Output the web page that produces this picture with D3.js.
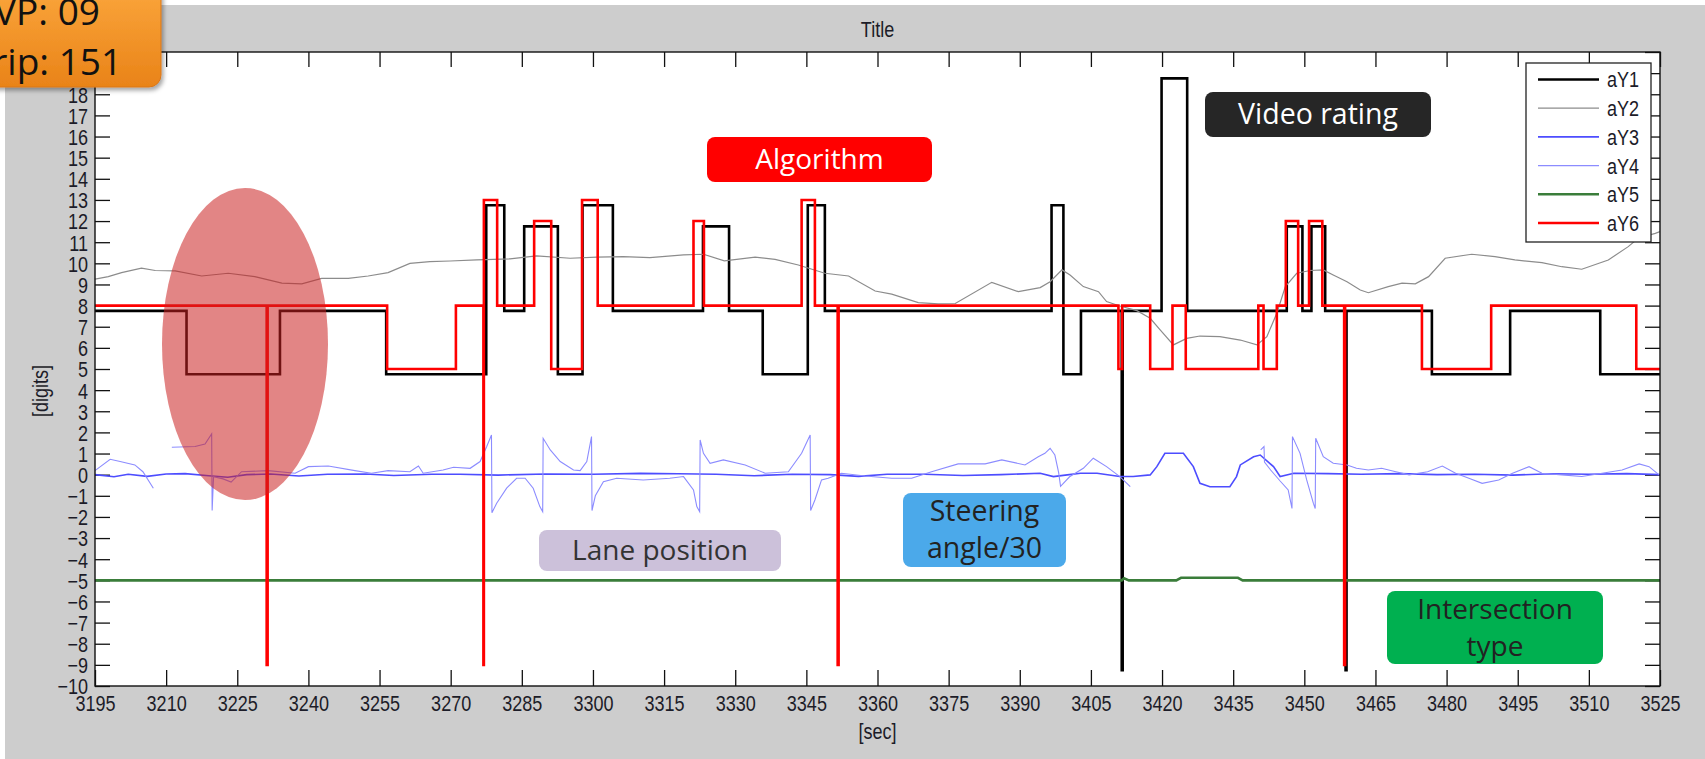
<!DOCTYPE html>
<html>
<head>
<meta charset="utf-8">
<script src="https://cdn.jsdelivr.net/npm/d3@7"></script>
<style>
  body { margin: 0; background: #fff; }
  svg { display: block; }
</style>
</head>
<body>
<script>
/**
 * Matlab-style signal plot (aY1..aY6 over time) with slide annotations on top.
 * Data are change points / samples: [sec, digits].
 */

// axis ticks
const X_TICKS = [3195, 3210, 3225, 3240, 3255, 3270, 3285, 3300, 3315, 3330, 3345,
                 3360, 3375, 3390, 3405, 3420, 3435, 3450, 3465, 3480, 3495, 3510, 3525];
const Y_TICKS = [-10, -9, -8, -7, -6, -5, -4, -3, -2, -1, 0, 1, 2, 3, 4, 5, 6, 7, 8, 9,
                 10, 11, 12, 13, 14, 15, 16, 17, 18, 19, 20];
// 19 and 20 sit under the orange badge, so they get no label
const Y_HIDDEN_LABELS = [19, 20];
const SERIES_NAMES = ["aY1", "aY2", "aY3", "aY4", "aY5", "aY6"];

// aY1 - video rating (step, value holds until next point)
const aY1 = [
  [3195, 7.75], [3214.3, 4.75], [3234.0, 7.75], [3256.4, 4.75], [3277.5, 12.75],
  [3281.3, 7.75], [3285.5, 11.75], [3292.6, 4.75], [3297.8, 12.75], [3304.2, 7.75],
  [3323.2, 11.75], [3328.7, 7.75], [3335.8, 4.75], [3345.3, 12.75], [3348.9, 7.75],
  [3396.7, 12.75], [3399.2, 4.75], [3402.9, 7.75], [3411.5, -9.25], [3411.7, 7.75],
  [3419.9, 18.75], [3425.3, 7.75], [3446.3, 11.75], [3449.6, 7.75], [3451.5, 11.75],
  [3454.4, 7.75], [3458.7, -9.25], [3458.9, 7.75], [3476.9, 4.75], [3493.4, 7.75],
  [3512.4, 4.75], [3525, 4.75]
];

// aY2 - lane position
const aY2 = [
  [3195, 9.25], [3197.8, 9.37], [3200.6, 9.56], [3204.8, 9.77], [3207.7, 9.66],
  [3211.9, 9.64], [3217.5, 9.40], [3223.1, 9.53], [3228.7, 9.37], [3234.4, 9.06],
  [3238.6, 9.03], [3242.8, 9.29], [3248.4, 9.29], [3252.6, 9.40], [3256.8, 9.56],
  [3261.4, 10.0], [3265.6, 10.08], [3269.9, 10.11], [3275.5, 10.16], [3282.5, 10.21],
  [3288.1, 10.35], [3295.2, 10.24], [3300.8, 10.29], [3306.4, 10.32], [3312.0, 10.27],
  [3319.1, 10.40], [3323.3, 10.43], [3327.7, 10.12], [3334.2, 10.29], [3338.4, 10.19],
  [3343.3, 9.92], [3348.9, 9.53], [3353.9, 9.40], [3359.5, 8.69], [3363.0, 8.54],
  [3368.6, 8.14], [3372.8, 8.08], [3376.4, 8.1], [3384.1, 9.1], [3389.7, 8.66],
  [3394.3, 8.85], [3396.4, 9.13], [3398.9, 9.69], [3400.6, 9.45], [3403.4, 8.90],
  [3406.6, 8.66], [3408.3, 8.19], [3411.1, 7.98], [3414.7, 7.76], [3417.5, 7.40],
  [3419.6, 6.85], [3422.4, 6.14], [3425.2, 6.45], [3428.0, 6.56], [3432.2, 6.53],
  [3436.5, 6.37], [3440.0, 6.14], [3442.1, 6.53], [3444.2, 7.64], [3446.0, 8.90],
  [3448.4, 9.53], [3451.2, 9.66], [3454.0, 9.69], [3456.1, 9.45], [3459.0, 9.13],
  [3461.8, 8.74], [3463.5, 8.61], [3467.7, 8.90], [3470.6, 9.06], [3473.4, 9.03],
  [3476.2, 9.37], [3479.7, 10.24], [3485.3, 10.43], [3490.2, 10.32], [3494.4, 10.16],
  [3500.1, 10.03], [3504.3, 9.84], [3508.5, 9.72], [3514.1, 10.16], [3518.3, 10.79],
  [3520.4, 11.19], [3524.0, 11.42], [3525, 11.5]
];

// aY3 - steering angle / 30
const aY3 = [
  [3195, 0], [3199, -0.1], [3202, 0.02], [3206, -0.08], [3210, 0.03], [3214, 0.05],
  [3219, -0.05], [3223, -0.12], [3227, 0], [3232, 0.03], [3238, -0.06], [3244, 0.02],
  [3252, 0.03], [3258, -0.04], [3266, 0.02], [3272, 0.02], [3280, -0.02], [3290, 0.03],
  [3300, 0.02], [3310, 0.06], [3318, 0.04], [3326, 0.02], [3334, -0.05], [3342, 0.02],
  [3350, 0], [3356, -0.08], [3362, 0.02], [3370, 0.02], [3378, -0.04], [3386, 0],
  [3394.3, 0.07], [3397.1, -0.09], [3400.0, -0.01], [3402.8, 0.07], [3406.3, 0.07],
  [3411.1, -0.09], [3413.9, -0.09], [3417.5, -0.01], [3418.9, 0.38], [3420.6, 1.01],
  [3424.5, 1.01], [3426.6, 0.38], [3428.0, -0.41], [3430.1, -0.57], [3434.3, -0.57],
  [3435.7, -0.09], [3436.5, 0.46], [3439.3, 0.85], [3440.7, 0.93], [3443.5, 0.38],
  [3444.9, -0.09], [3447.8, 0.07], [3455, 0.05], [3462, 0.02], [3470, 0.05],
  [3478, 0.0], [3486, 0.02], [3494, -0.02], [3502, 0.04], [3510, 0.02], [3518, 0.05],
  [3525, 0.0]
];

// aY4 - raw steering, null = gap in the recording
const aY4 = [
  [3195, 0.19], [3198.2, 0.73], [3200.3, 0.62], [3203.4, 0.46], [3205.1, 0.14],
  [3207.3, -0.64], [3209, null],
  [3211.2, 1.3], [3216.1, 1.33], [3218.2, 1.45], [3219.6, 1.93], [3219.7, -1.7],
  [3220.0, -0.1], [3222.0, -0.2], [3223.7, -0.35], [3225.9, 0.14], [3231.5, 0.19],
  [3237.2, 0.07], [3240.0, 0.38], [3244.2, 0.41], [3249.8, 0.19], [3253.3, 0.07],
  [3256.8, 0.19], [3261.4, 0.14], [3263.2, 0.41], [3264.2, 0.07], [3268.4, 0.22],
  [3270.6, 0.35], [3274.1, 0.30], [3276.2, 0.62], [3277.6, 1.33], [3278.6, 1.88],
  [3278.7, -1.8], [3279.7, -1.35], [3281.8, -0.64], [3283.9, -0.17], [3285.7, -0.17],
  [3287.4, -0.64], [3288.8, -1.51], [3289.4, -1.75], [3289.5, 1.72], [3291.0, 1.17],
  [3293.1, 0.62], [3295.9, 0.22], [3297.3, 0.19], [3298.7, 0.62], [3299.7, 1.80],
  [3299.8, -1.7], [3300.5, -1.0], [3302.2, -0.33], [3305.0, -0.17], [3310.6, -0.25],
  [3316.2, -0.17], [3319.1, -0.09], [3321.2, -0.72], [3321.9, -1.51], [3322.5, -1.75],
  [3322.6, 1.64], [3323.3, 1.01], [3324.7, 0.54], [3327.5, 0.70], [3332.1, 0.46],
  [3336.3, 0.07], [3341.2, 0.14], [3344.0, 1.01], [3345.8, 1.88], [3345.9, -1.7],
  [3346.8, -1.2], [3348.2, -0.25], [3349.6, -0.17], [3352.4, 0.07], [3357.4, -0.06],
  [3363.0, -0.17], [3367.2, -0.17], [3371.4, 0.14], [3377.0, 0.51], [3382.7, 0.51],
  [3386.2, 0.70], [3391.1, 0.46], [3393.9, 0.85], [3395.3, 1.01], [3396.4, 1.25],
  [3397.4, 0.93], [3398.2, 0.1], [3398.6, -0.55], [3400.5, -0.1], [3403.4, 0.3],
  [3405.5, 0.78], [3408.3, 0.38], [3411.1, -0.09], [3413.3, -0.57], [3415, null],
  [3440.8, 1.17], [3441.5, 1.33], [3441.6, 0.6], [3442.9, 0.22], [3444.9, -0.3],
  [3446.6, -0.72], [3447.4, -1.6], [3447.5, 1.80], [3449.1, 1.01], [3450.5, -0.25],
  [3451.9, -1.35], [3452.3, -1.6], [3452.4, 1.72], [3454.0, 0.85], [3456.1, 0.54],
  [3459.0, 0.46], [3461.0, 0.3], [3463.5, 0.22], [3466.3, 0.30], [3469.3, 0.14],
  [3472.1, -0.01], [3476.0, 0.14], [3479.1, 0.41], [3481.9, 0.07], [3484.7, -0.17],
  [3487.5, -0.41], [3491.0, -0.25], [3493.9, 0.07], [3497.4, 0.38], [3500.1, 0.07],
  [3504.3, -0.01], [3508.5, -0.09], [3512.8, 0.07], [3517.0, 0.22], [3520.6, 0.51],
  [3522.7, 0.38], [3524.8, -0.01]
];

// aY5 - intersection type
const aY5 = [
  [3195, -5], [3411.5, -5], [3412, -4.9], [3413, -5], [3423, -5], [3424, -4.88],
  [3436, -4.88], [3437, -5], [3525, -5]
];

// aY6 - algorithm (step)
const aY6 = [
  [3195, 8], [3231.2, -9], [3231.4, 8], [3256.6, 5], [3271.1, 8], [3276.9, -9],
  [3277.0, 13], [3279.8, 8], [3287.6, 12], [3291.2, 5], [3297.7, 13], [3301.0, 8],
  [3321.2, 12], [3323.4, 8], [3344.0, 13], [3346.8, 8], [3351.6, -9], [3351.8, 8],
  [3410.8, 5], [3411.6, 8], [3417.5, 5], [3422.2, 8], [3425.0, 5], [3440.3, 8],
  [3441.4, 5], [3444.2, 8], [3446.1, 12], [3448.7, 8], [3451.0, 12], [3453.8, 8],
  [3458.4, -9], [3458.6, 8], [3474.8, 5], [3489.4, 8], [3520.0, 5], [3525, 5]
];

const SERIES = [aY1, aY2, aY3, aY4, aY5, aY6];

// styles, kept apart from the data
const STYLE = {
  aY1: {color: "#000000", width: 2.6, step: true},
  aY2: {color: "#8c8c8c", width: 1.2, step: false},
  aY3: {color: "#4d4dff", width: 1.6, step: false},
  aY4: {color: "#8c8cff", width: 1.1, step: false},
  aY5: {color: "#3a7d3a", width: 2.6, step: false},
  aY6: {color: "#ff0000", width: 2.6, step: true}
};

const W = 1705, H = 759;
const plot = {left: 95, right: 1660, top: 52, bottom: 686};
const TEXT_SX = 0.82;   // matlab fonts look squeezed horizontally
const ML_FONT = "'Liberation Sans', Arial, sans-serif";
const NOTE_FONT = "'Open Sans', 'Noto Sans', sans-serif";

const svg = d3.select("body").append("svg")
  .attr("width", W).attr("height", H);

const defs = svg.append("defs");
defs.append("clipPath").attr("id", "plotclip")
  .append("rect")
  .attr("x", plot.left).attr("y", plot.top)
  .attr("width", plot.right - plot.left).attr("height", plot.bottom - plot.top);

let grad = defs.append("linearGradient").attr("id", "orange")
  .attr("x1", 0).attr("y1", 0).attr("x2", 0).attr("y2", 1);
grad.append("stop").attr("offset", "0%").attr("stop-color", "#fca83e");
grad.append("stop").attr("offset", "100%").attr("stop-color", "#e98318");

let shadow = defs.append("filter").attr("id", "shadow")
  .attr("x", "-20%").attr("y", "-20%").attr("width", "140%").attr("height", "140%");
shadow.append("feDropShadow").attr("dx", 2).attr("dy", 3)
  .attr("stdDeviation", 2).attr("flood-color", "#000").attr("flood-opacity", 0.35);

// figure background
svg.append("rect").attr("x", 5).attr("y", 5).attr("width", W - 5).attr("height", H - 5)
  .attr("fill", "#cdcdcd");
svg.append("rect")
  .attr("x", plot.left).attr("y", plot.top)
  .attr("width", plot.right - plot.left).attr("height", plot.bottom - plot.top)
  .attr("fill", "#ffffff");

const x = d3.scaleLinear().domain([3195, 3525]).range([plot.left, plot.right]);
const y = d3.scaleLinear().domain([-10, 20]).range([plot.bottom, plot.top]);

function mlText(sel) {
  return sel.attr("font-family", ML_FONT).attr("font-size", 22).attr("fill", "#1c1c28");
}

// axes - matlab puts ticks inside on all four sides
let xAxis = d3.axisBottom(x).tickValues(X_TICKS).tickSizeInner(-16).tickSizeOuter(0)
  .tickFormat(d3.format("d"));
let gx = svg.append("g").attr("transform", "translate(0," + plot.bottom + ")").call(xAxis);
gx.selectAll(".tick text")
  .attr("y", 0).attr("dy", null)
  .attr("transform", "translate(0,25) scale(" + TEXT_SX + ",1)")
  .call(mlText);

let gxTop = svg.append("g").attr("transform", "translate(0," + plot.top + ")")
  .call(d3.axisTop(x).tickValues(X_TICKS).tickSizeInner(-15).tickSizeOuter(0).tickFormat(""));

let yAxis = d3.axisLeft(y).tickValues(Y_TICKS).tickSizeInner(-15).tickSizeOuter(0)
  .tickFormat(d => Y_HIDDEN_LABELS.includes(d) ? "" : d3.format("d")(d));
let gy = svg.append("g").attr("transform", "translate(" + plot.left + ",0)").call(yAxis);
gy.selectAll(".tick text")
  .attr("x", 0).attr("dy", "0.36em")
  .attr("transform", "translate(-7,0) scale(" + TEXT_SX + ",1)")
  .call(mlText);

let gyRight = svg.append("g").attr("transform", "translate(" + plot.right + ",0)")
  .call(d3.axisRight(y).tickValues(Y_TICKS).tickSizeInner(-15).tickSizeOuter(0).tickFormat(""));

[gx, gxTop, gy, gyRight].forEach(g => {
  g.select(".domain").remove();
  g.selectAll(".tick line").attr("stroke", "#111").attr("stroke-width", 1.3);
});

// series lines
const lines = svg.append("g").attr("clip-path", "url(#plotclip)");
SERIES_NAMES.forEach((name, i) => {
  let st = STYLE[name];
  let line = d3.line()
    .defined(d => d[1] !== null)
    .x(d => x(d[0]))
    .y(d => y(d[1]))
    .curve(st.step ? d3.curveStepAfter : d3.curveLinear);
  lines.append("path")
    .datum(SERIES[i])
    .attr("fill", "none")
    .attr("stroke", st.color)
    .attr("stroke-width", st.width)
    .attr("stroke-linejoin", "miter")
    .attr("d", line);
});

// plot box
svg.append("rect")
  .attr("x", plot.left).attr("y", plot.top)
  .attr("width", plot.right - plot.left).attr("height", plot.bottom - plot.top)
  .attr("fill", "none").attr("stroke", "#111").attr("stroke-width", 1.4);

// titles
function mlLabel(tx, ty, str, rotate) {
  svg.append("text")
    .attr("transform", "translate(" + tx + "," + ty + ")" + (rotate ? " rotate(-90)" : "") +
      " scale(" + TEXT_SX + ",1)")
    .attr("text-anchor", "middle")
    .attr("dy", "0.36em")
    .text(str)
    .call(mlText);
}
mlLabel((plot.left + plot.right) / 2, 29, "Title", false);
mlLabel((plot.left + plot.right) / 2, 731, "[sec]", false);
mlLabel(40, 391, "[digits]", true);

// legend
const legend = svg.append("g");
legend.append("rect")
  .attr("x", 1526).attr("y", 63).attr("width", 125).attr("height", 179)
  .attr("fill", "#fff").attr("stroke", "#222").attr("stroke-width", 1.3);
SERIES_NAMES.forEach((name, i) => {
  let ly = 79.5 + i * 28.7;
  legend.append("line")
    .attr("x1", 1538).attr("x2", 1599).attr("y1", ly).attr("y2", ly)
    .attr("stroke", STYLE[name].color).attr("stroke-width", STYLE[name].width);
  legend.append("text")
    .attr("transform", "translate(1607," + ly + ") scale(" + TEXT_SX + ",1)")
    .attr("dy", "0.36em")
    .text(name)
    .call(mlText);
});

// slide annotations on top of the figure
svg.append("ellipse")
  .attr("cx", 245).attr("cy", 344).attr("rx", 83).attr("ry", 156)
  .attr("fill", "rgb(202,32,32)").attr("opacity", 0.55);

function noteBox(bx, by, bw, bh, fill, textColor, rows, size) {
  svg.append("rect")
    .attr("x", bx).attr("y", by).attr("width", bw).attr("height", bh)
    .attr("rx", 8).attr("fill", fill);
  let step = bh / rows.length;
  rows.forEach((r, i) => {
    svg.append("text")
      .attr("x", bx + bw / 2).attr("y", by + step * (i + 0.5))
      .attr("dy", "0.35em")
      .attr("text-anchor", "middle")
      .attr("font-family", NOTE_FONT).attr("font-size", size)
      .attr("fill", textColor)
      .text(r);
  });
}
noteBox(707, 137, 225, 45, "#ff0000", "#ffffff", ["Algorithm"], 28);
noteBox(1205, 92, 226, 45, "#262626", "#ffffff", ["Video rating"], 28.5);
noteBox(539, 530, 242, 41, "#ccc1da", "#333333", ["Lane position"], 28);
noteBox(903, 493, 163, 74, "#4ba9ea", "#222222", ["Steering", "angle/30"], 28.5);
noteBox(1387, 591, 216, 73, "#00b050", "#222222", ["Intersection", "type"], 28);

// participant badge, partly off the page
svg.append("rect")
  .attr("x", -80).attr("y", -20).attr("width", 241).attr("height", 107).attr("rx", 12)
  .attr("fill", "url(#orange)").attr("stroke", "#d9771a").attr("stroke-width", 1)
  .attr("filter", "url(#shadow)");
[["VP: 09", 25], ["Trip: 151", 75]].forEach(r => {
  svg.append("text")
    .attr("x", 47).attr("y", r[1])
    .attr("text-anchor", "middle")
    .attr("font-family", NOTE_FONT).attr("font-size", 37)
    .attr("fill", "#111")
    .text(r[0]);
});
</script>
</body>
</html>
